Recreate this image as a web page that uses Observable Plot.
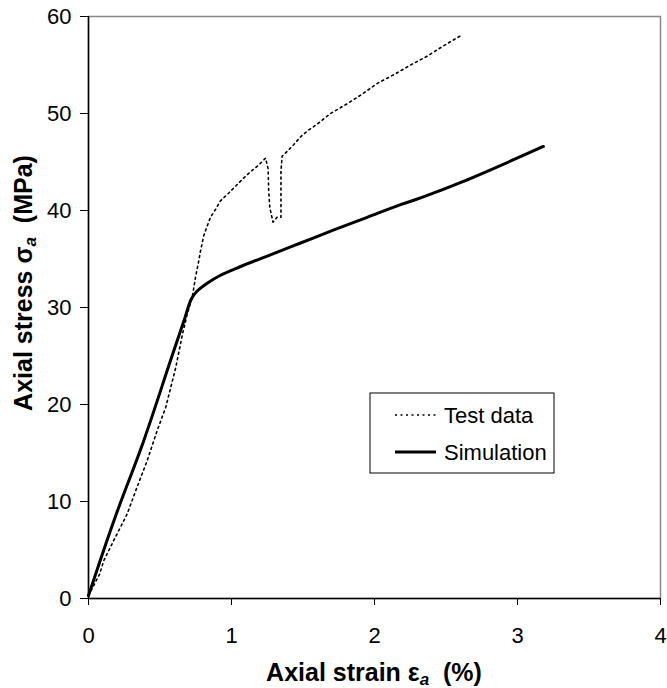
<!DOCTYPE html>
<html>
<head>
<meta charset="utf-8">
<script src="https://cdn.jsdelivr.net/npm/d3@7"></script>
<script src="https://cdn.jsdelivr.net/npm/@observablehq/plot@0.6"></script>
<style>
  html, body { margin: 0; padding: 0; background: #fff; }
  #chart svg { display: block; font-family: "Liberation Sans", Arial, sans-serif; }
</style>
</head>
<body>
<div id="chart"></div>
<script>
// Test data (dotted)
const testStrain = [0, 0.077, 0.107, 0.177, 0.27, 0.34, 0.41, 0.48, 0.54, 0.61, 0.655, 0.69, 0.725, 0.748, 0.771, 0.783, 0.806, 0.83, 0.853, 0.888, 0.923, 0.981, 1.028, 1.075, 1.133, 1.191, 1.238, 1.256, 1.26, 1.268, 1.29, 1.318, 1.346, 1.346, 1.346, 1.354, 1.39, 1.436, 1.483, 1.54, 1.6, 1.692, 1.809, 1.914, 2.019, 2.135, 2.252, 2.368, 2.485, 2.601];
const testStress = [0.3, 2.5, 3.9, 6.0, 8.7, 11.5, 14.2, 17.3, 19.7, 23.8, 27.1, 29.3, 31.0, 33.1, 34.8, 35.8, 37.4, 38.4, 39.3, 40.1, 41.0, 41.8, 42.5, 43.2, 44.0, 44.7, 45.4, 44.3, 42.0, 40.3, 38.8, 39.3, 39.3, 41.0, 44.1, 45.6, 46.1, 46.8, 47.6, 48.3, 48.9, 50.0, 51.0, 52.0, 53.1, 54.0, 55.0, 55.9, 57.0, 58.0];
// Simulation (solid)
const simStrain = [0, 0.177, 0.387, 0.573, 0.667, 0.72, 0.76, 0.83, 0.92, 1.06, 1.25, 1.483, 1.716, 1.949, 2.182, 2.322, 2.622, 3.181];
const simStress = [0.3, 8.0, 16.3, 24.5, 28.6, 30.9, 31.7, 32.5, 33.3, 34.2, 35.3, 36.65, 38.0, 39.3, 40.6, 41.3, 43.0, 46.6];
const xTicks = [0, 1, 2, 3, 4];
const yTicks = [0, 10, 20, 30, 40, 50, 60];
const seriesNames = ["Test data", "Simulation"];

const test = testStrain.map((x, i) => ({x, y: testStress[i]}));
const sim = simStrain.map((x, i) => ({x, y: simStress[i]}));

const fontSize = 22;
const titleSize = 25;
const chart = Plot.plot({
  width: 667,
  height: 688,
  marginLeft: 88,
  marginRight: 7,
  marginTop: 16,
  marginBottom: 90,
  style: {fontFamily: '"Liberation Sans", Arial, sans-serif', fontSize: fontSize + "px", background: "#fff"},
  x: {domain: [0, 4]},
  y: {domain: [0, 60]},
  marks: [
    Plot.frame({stroke: "#888", strokeWidth: 1.5}),
    Plot.axisX({ticks: xTicks, tickSize: 7, tickPadding: 22, label: null, stroke: "#000", fill: "#000", fontSize: fontSize, tickFormat: d => String(d)}),
    Plot.axisY({ticks: yTicks, tickSize: 8, tickPadding: 9, label: null, stroke: "#000", fill: "#000", fontSize: fontSize, tickFormat: d => String(d)}),
    Plot.ruleX([0], {stroke: "#000", strokeWidth: 1.5}),
    Plot.ruleY([0], {stroke: "#000", strokeWidth: 1.5}),
    Plot.line(test, {x: "x", y: "y", stroke: "#000", strokeWidth: 1.6, strokeDasharray: "2,3.5"}),
    Plot.line(sim, {x: "x", y: "y", stroke: "#000", strokeWidth: 3, curve: "catmull-rom"})
  ]
});

const svg = d3.select(chart);
// X axis title
const xt = svg.append("text")
  .attr("x", 374).attr("y", 681)
  .attr("text-anchor", "middle")
  .attr("font-weight", "bold").attr("font-size", titleSize).attr("fill", "#000");
xt.append("tspan").text("Axial strain ε");
xt.append("tspan").attr("font-size", 17).attr("font-style", "italic").attr("dy", 4).text("a");
xt.append("tspan").attr("dy", -4).text("\u00a0\u00a0(%)");

// Y axis title
const yt = svg.append("text")
  .attr("transform", "translate(32,283) rotate(-90)")
  .attr("text-anchor", "middle")
  .attr("font-weight", "bold").attr("font-size", titleSize).attr("fill", "#000");
yt.append("tspan").text("Axial stress σ");
yt.append("tspan").attr("font-size", 17).attr("font-style", "italic").attr("dy", 4).text("a");
yt.append("tspan").attr("dy", -4).text("\u00a0\u00a0(MPa)");

// Legend
const lg = svg.append("g").attr("text-anchor", "start");
lg.append("rect").attr("x", 370).attr("y", 393).attr("width", 184).attr("height", 80)
  .attr("fill", "#fff").attr("stroke", "#000").attr("stroke-width", 1);
lg.append("line").attr("x1", 395).attr("x2", 436).attr("y1", 415).attr("y2", 415)
  .attr("stroke", "#000").attr("stroke-width", 1.6).attr("stroke-dasharray", "2,3.5");
lg.append("line").attr("x1", 395).attr("x2", 436).attr("y1", 452).attr("y2", 452)
  .attr("stroke", "#000").attr("stroke-width", 3);
lg.append("text").attr("x", 444).attr("y", 423).attr("font-size", fontSize).attr("fill", "#000").text(seriesNames[0]);
lg.append("text").attr("x", 444).attr("y", 460).attr("font-size", fontSize).attr("fill", "#000").text(seriesNames[1]);

document.getElementById("chart").appendChild(chart);
</script>
</body>
</html>
